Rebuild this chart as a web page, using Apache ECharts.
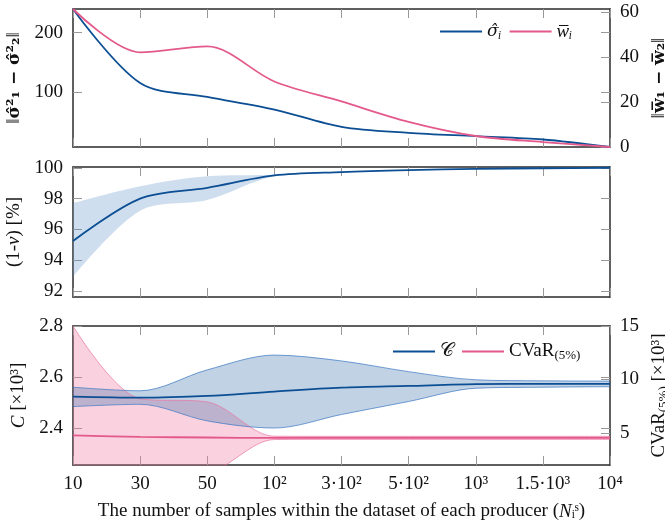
<!DOCTYPE html>
<html>
<head>
<meta charset="utf-8">
<script src="https://cdn.jsdelivr.net/npm/echarts@6/dist/echarts.min.js"></script>
<style>
  html, body { margin: 0; padding: 0; background: #fff; }
  #chart { width: 665px; height: 525px; }
</style>
</head>
<body>
<div id="chart"></div>
<script>
// x categories (log-ish sample counts, evenly spaced)
const categories = ['10', '30', '50', '10²', '3·10²', '5·10²', '10³', '1.5·10³', '10⁴'];

// panel 1: distance between producers
const sigmaDiff = [240, 115, 91.6, 70.3, 41, 30.9, 25.3, 19.7, 7];
const wDiff = [61.5, 42.2, 44.8, 29.2, 20.3, 11.2, 4.9, 2.2, 0];

// panel 2: reliability (1-nu) [%]
const reliability = [95.24, 98.0, 98.7, 99.5, 99.72, 99.85, 99.93, 99.97, 100];
const relUpper = [97.7, 98.8, 99.45, 99.55, 99.74, 99.86, 99.94, 99.98, 100];
const relLower = [92.9, 97.2, 97.9, 99.45, 99.7, 99.84, 99.92, 99.96, 100];

// panel 3: cost and CVaR [x10^3]
const cost = [2.523, 2.519, 2.526, 2.543, 2.558, 2.565, 2.572, 2.573, 2.573];
const costUpper = [2.56, 2.546, 2.628, 2.686, 2.663, 2.621, 2.589, 2.585, 2.584];
const costLower = [2.484, 2.493, 2.428, 2.40, 2.453, 2.504, 2.556, 2.56, 2.562];
const cvar = [4.78, 4.63, 4.57, 4.53, 4.53, 4.53, 4.53, 4.53, 4.53];
const cvarUpper = [15, 8.2, 7.9, 4.69, 4.68, 4.68, 4.68, 4.68, 4.68];
const cvarLower = [-5.4, 1.0, 1.3, 4.38, 4.4, 4.4, 4.4, 4.4, 4.4];

const FONT = 'Liberation Serif';
const MATH = 'DejaVu Serif';
const FS = 19;
const BLUE = '#0b4e93';
const PINK = '#e4598b';
const SMOOTH = 0.32;

const chart = echarts.init(document.getElementById('chart'));

const axisLine = { show: true, lineStyle: { color: '#2b2b2b', width: 1.5 } };
const tick = { show: true, inside: true, length: 9, lineStyle: { color: '#999', width: 1 } };
const lab = { fontFamily: FONT, fontSize: FS, color: '#111' };
const rich = {
  it: { fontStyle: 'italic', fontFamily: FONT, fontSize: FS },
  b: { fontWeight: 'bold', fontFamily: MATH, fontSize: FS - 2 },
  h: { fontFamily: MATH, fontStyle: 'italic', fontSize: FS - 2 },
  s: { fontFamily: FONT, fontSize: 13, padding: [9, 0, 0, 0] }
};

function xAx(grid, bottom, showLabel) {
  return {
    type: 'category', gridIndex: grid, data: categories, boundaryGap: false,
    position: bottom ? 'bottom' : 'top',
    axisLine: axisLine, axisTick: Object.assign({ interval: 0 }, tick),
    axisLabel: Object.assign({ show: showLabel, margin: 10, interval: 0 }, lab),
    splitLine: { show: false },
    name: showLabel ? 'The number of samples within the dataset of each producer ({it|N}ᵢˢ)' : '',
    nameLocation: 'middle', nameGap: 37,
    nameTextStyle: Object.assign({ rich: rich }, lab)
  };
}

function yAx(grid, pos, min, max, ticks, opts) {
  opts = opts || {};
  return {
    type: 'value', gridIndex: grid, position: pos, min: min, max: max,
    axisLine: opts.noLine ? { show: false } : axisLine,
    axisTick: Object.assign({ customValues: ticks }, tick),
    axisLabel: Object.assign({ show: !!opts.labels, customValues: ticks, margin: 10 }, lab),
    splitLine: { show: false },
    name: opts.name || '', nameLocation: 'middle', nameGap: opts.gap || 40, nameRotate: 90,
    nameTextStyle: Object.assign({ rich: rich }, lab)
  };
}

function line(name, data, xi, yi, color) {
  return {
    name: name, type: 'line', data: data, xAxisIndex: xi, yAxisIndex: yi,
    smooth: SMOOTH, symbol: 'none', lineStyle: { color: color, width: 1.8 },
    itemStyle: { color: color }, z: 5
  };
}

function band(id, lower, upper, xi, yi, fill, edge) {
  const edgeStyle = edge ? { color: edge, width: 0.9 } : { width: 0, opacity: 0 };
  return [
    {
      type: 'line', data: lower, xAxisIndex: xi, yAxisIndex: yi, stack: id, stackStrategy: 'all',
      smooth: SMOOTH, symbol: 'none', lineStyle: edgeStyle, silent: true, z: 2
    },
    {
      type: 'line', data: upper.map((u, i) => u - lower[i]), xAxisIndex: xi, yAxisIndex: yi,
      stack: id, stackStrategy: 'all', smooth: SMOOTH, symbol: 'none', lineStyle: edgeStyle,
      areaStyle: { color: fill, opacity: 1 }, silent: true, z: 2
    }
  ];
}

const legendBase = {
  icon: 'rect', itemWidth: 42, itemHeight: 2, itemGap: 8, padding: 0,
  textStyle: Object.assign({ rich: rich }, lab)
};

chart.setOption({
  animation: false,
  backgroundColor: '#fff',
  grid: [
    { left: 73, width: 537, top: 9, height: 138, outerBoundsMode: 'none' },
    { left: 73, width: 537, top: 167, height: 130, outerBoundsMode: 'none' },
    { left: 73, width: 537, top: 326, height: 139, outerBoundsMode: 'none' }
  ],
  xAxis: [
    xAx(0, true, false), xAx(0, false, false),
    xAx(1, true, false), xAx(1, false, false),
    xAx(2, true, true), xAx(2, false, false)
  ],
  yAxis: [
    yAx(0, 'left', 7, 240, [100, 200], { labels: true, name: '‖{b|σ̂²₁ − σ̂²₂}‖', gap: 45 }),
    yAx(0, 'right', 0, 61.5, [0, 20, 40, 60], { labels: true, name: '‖{b|w̅₁ − w̅₂}‖', gap: 36 }),
    yAx(0, 'right', 7, 240, [100, 200], { noLine: true }),
    yAx(1, 'left', 91.6, 100.05, [92, 94, 96, 98, 100], { labels: true, name: '(1-{it|ν}) [%]', gap: 45 }),
    yAx(1, 'right', 91.6, 100.05, [92, 94, 96, 98, 100], {}),
    yAx(2, 'left', 2.255, 2.8, [2.4, 2.6, 2.8], { labels: true, name: '{it|C} [×10³]', gap: 45 }),
    yAx(2, 'right', 2, 15, [5, 10, 15], { labels: true, name: 'CVaR{s|(5%)} [×10³]', gap: 32 }),
    yAx(2, 'right', 2.255, 2.8, [2.4, 2.6, 2.8], { noLine: true })
  ],
  legend: [
    Object.assign({}, legendBase, {
      data: ['sig', 'w'], left: 440, top: 22,
      formatter: n => n === 'sig' ? '{h|σ̂}{it|ᵢ}' : '{it|w̅ᵢ}'
    }),
    Object.assign({}, legendBase, {
      data: ['𝒞', 'CVaR'], left: 393, top: 342,
      formatter: n => n === 'CVaR' ? 'CVaR{s|(5%)}' : n
    })
  ],
  series: [
    line('sig', sigmaDiff, 0, 0, BLUE),
    line('w', wDiff, 0, 1, PINK),

    ...band('rel', relLower, relUpper, 2, 3, 'rgba(95,145,200,0.3)', null),
    line('rel', reliability, 2, 3, BLUE),

    ...band('cvarb', cvarLower, cvarUpper, 4, 6, 'rgba(236,120,160,0.34)', 'rgba(236,110,155,0.75)'),
    ...band('costb', costLower, costUpper, 4, 5, 'rgba(50,105,170,0.3)', 'rgba(60,120,195,0.8)'),
    line('CVaR', cvar, 4, 6, PINK),
    line('𝒞', cost, 4, 5, BLUE)
  ]
});
</script>
</body>
</html>
